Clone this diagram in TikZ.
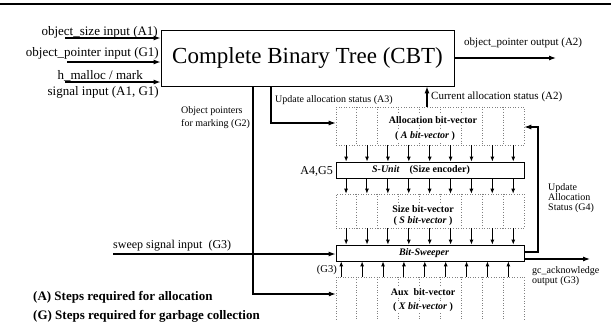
\documentclass[tikz,border=0pt]{standalone}
\usepackage{fontspec}
\setmainfont{Liberation Serif}
\usetikzlibrary{arrows.meta,calc}
\newcommand\fsz[1]{\fontsize{#1}{#1}\selectfont}
\begin{document}
\begin{tikzpicture}[x=1pt,y=-1pt,
  lbl/.style={inner sep=0pt, font=\fsz{13}},
  sm/.style={inner sep=0pt, font=\fsz{10}},
  wire/.style={line width=1.1pt},
  arr/.style={wire,-{Latex[length=7pt,width=5pt]}},
  bitarr/.style={line width=0.9pt,-{Latex[length=5pt,width=4pt]}},
  dots/.style={draw=gray,dotted,line width=0.6pt},
  vec/.style={dots,minimum width=188pt,inner sep=0pt},
  unit/.style={draw,line width=0.8pt,minimum width=188pt,minimum height=16pt,inner sep=0pt},
  vtext/.style={fill=white,inner sep=1pt,font=\bfseries\fsz{10}},
  legend/.style={inner sep=0pt,font=\bfseries\fsz{13}}
]
\useasboundingbox (0,0) rectangle (611,327);
\draw[line width=1.6pt] (0,4) -- (611,4);

% the tree block
\node[draw,line width=0.8pt,minimum width=293pt,minimum height=56pt,inner sep=0pt,font=\fsz{23}]
  (cbt) at (307.5,58) {Complete Binary Tree (CBT)};

% inputs on the left
\node[lbl,anchor=base east] (tsize) at (158,35) {object\_size input (A1)};
\node[lbl,anchor=base east] (tptr) at (159,56) {object\_pointer input (G1)};
\node[lbl,anchor=base east] (tmal) at (143,79) {h\_malloc / mark};
\node[lbl,anchor=base east] (tsig) at (159,95) {signal input (A1, G1)};
\coordinate (in1) at (65,38);
\coordinate (in2) at (67,62);
\coordinate (in3) at (65,82);
\draw[arr] (in1) -- (cbt.west |- in1);
\draw[arr] (in2) -- (cbt.west |- in2);
\draw[arr] (in3) -- (cbt.west |- in3);

% pointer output
\coordinate (outend) at (556,58);
\draw[arr] (cbt.east |- outend) -- (outend);
\node[inner sep=0pt,font=\fsz{11},anchor=base west] (tout) at (464,45) {object\_pointer output (A2)};

% bit-vectors and units
\node[vec,minimum height=38pt] (alloc) at (430,126) {};
\node[unit] (sunit) at (430,170) {};
\node[vec,minimum height=34pt] (size) at (430,211) {};
\node[unit] (sweeper) at (430,253) {};
\node[minimum width=188pt,minimum height=42pt,inner sep=0pt] (aux) at (430,298) {};
\draw[dots] (aux.south west) -- (aux.north west) -- (aux.north east) -- (aux.south east);

\foreach \v in {alloc,size,aux}{
  \foreach \i in {1,...,8}{
    \draw[dots]
      ($(\v.north west)+(20.89*\i,0)$) -- ($(\v.south west)+(20.89*\i,0)$);
  }
}

\node[vtext] (talloc) at (433,120) {Allocation bit-vector};
\node[vtext] (talloc2) at (425,136) {( \textit{A bit-vector} )};
\node[vtext] (tsize1) at (423,209) {Size bit-vector};
\node[vtext] (tsize2) at (423,221) {( \textit{S bit-vector} )};
\node[vtext] (taux1) at (423,292) {Aux\ \ bit-vector};
\node[vtext] (taux2) at (423,307) {( \textit{X bit-vector} )};

\node[inner sep=0pt,font=\bfseries\fsz{10}] (tsu) at (421,170) {\textit{S-Unit}\quad(Size encoder)};
\node[inner sep=0pt,font=\bfseries\itshape\fsz{10}] (tsw) at (424,253) {Bit-Sweeper};

% bit lines between the stages
\foreach \i in {0,...,8}{
  \path (alloc.south west) ++(10.44+20.89*\i,0) coordinate (ca\i);
  \draw[bitarr] (ca\i) -- (ca\i |- sunit.north);
  \path (sunit.south west) ++(10.44+20.89*\i,0) coordinate (cs\i);
  \draw[bitarr] (cs\i) -- (cs\i |- size.north);
  \path (size.south west) ++(10.44+20.89*\i,0) coordinate (cz\i);
  \draw[bitarr] (cz\i) -- (cz\i |- sweeper.north);
  \path (aux.north west) ++(5.44+20.89*\i,0) coordinate (cx\i);
  \draw[bitarr] (cx\i) -- (cx\i |- sweeper.south);
}

\node[inner sep=0pt,font=\fsz{12},anchor=base east] (ta4) at (333,174) {A4,G5};
\node[inner sep=0pt,font=\fsz{10.5},anchor=base east] (tg3) at (337,272) {(G3)};

% allocation status paths
\coordinate (a3) at (271,123);
\draw[arr] (cbt.south -| a3) -- (a3) -- (a3 -| alloc.west);
\node[sm,anchor=base west] (tupd) at (275,102) {Update allocation status (A3)};

\coordinate (cur) at (427,0);
\draw[arr] (alloc.north -| cur) -- (cbt.south -| cur);
\node[inner sep=0pt,font=\fsz{11},anchor=base west] (tcur) at (431,99) {Current allocation status (A2)};

% marking pointers
\coordinate (g2) at (253,294);
\draw[arr] (cbt.south -| g2) -- (g2) -- (g2 -| aux.west);
\node[sm,anchor=base west] (tobj1) at (181,113) {Object pointers};
\node[sm,anchor=base west] (tobj2) at (181,126) {for marking (G2)};

% sweep input
\coordinate (sw) at (113,254);
\draw[arr] (sw) -- (sw -| sweeper.west);
\node[inner sep=0pt,font=\fsz{12},anchor=base west] (tsw2) at (113,248) {sweep signal input\ \ (G3)};

% sweeper outputs
\coordinate (g4a) at (538,252);
\coordinate (g4b) at (538,127);
\draw[arr] (sweeper.east |- g4a) -- (g4a) -- (g4b) -- (g4b -| alloc.east);
\node[sm,anchor=north west,align=left] (tg4) at (548,183) {Update\\Allocation\\Status (G4)};

\coordinate (gc) at (590,259);
\draw[arr] (sweeper.east |- gc) -- (gc);
\node[sm,anchor=north west,align=left] (tgc) at (532,266) {gc\_acknowledge\\output (G3)};

% legend
\node[legend,anchor=base west] (la) at (33,300) {(A) Steps required for allocation};
\node[legend,anchor=base west] (lg) at (33,319) {(G) Steps required for garbage collection};
\end{tikzpicture}
\end{document}
